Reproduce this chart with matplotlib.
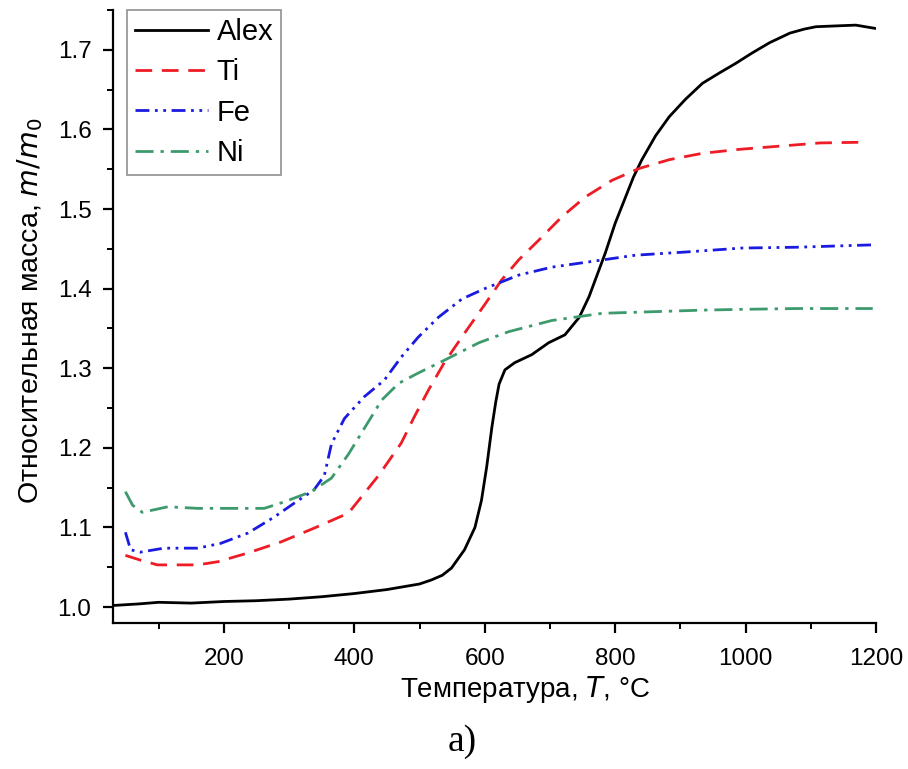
import matplotlib
matplotlib.use("Agg")
import matplotlib.pyplot as plt
from matplotlib.ticker import MultipleLocator, FormatStrFormatter

plt.rcParams['font.family'] = ['Liberation Sans', 'DejaVu Sans']

# Data
alex_T = [30, 70, 100, 150, 200, 250, 300, 350, 400, 450, 500, 518, 535, 549, 569, 585, 595, 603,
          611, 617, 622, 631, 646, 672, 698, 723, 745, 760, 775, 785, 800, 814, 828, 841, 862,
          883, 908, 934, 960, 985, 1010, 1037, 1068, 1090, 1108, 1138, 1169, 1198]
alex_m = [1.002, 1.004, 1.006, 1.005, 1.007, 1.008, 1.010, 1.013, 1.017, 1.022, 1.029, 1.034,
          1.040, 1.049, 1.072, 1.100, 1.134, 1.176, 1.226, 1.258, 1.280, 1.298, 1.307, 1.317,
          1.332, 1.342, 1.364, 1.390, 1.423, 1.445, 1.482, 1.511, 1.540, 1.562, 1.592, 1.616,
          1.638, 1.658, 1.671, 1.683, 1.696, 1.709, 1.721, 1.726, 1.729, 1.730, 1.731, 1.727]

ti_T = [49, 72, 98, 160, 191, 237, 288, 338, 391, 437, 472, 492, 514, 538, 569, 600, 626, 652,
        683, 718, 754, 795, 837, 883, 934, 991, 1037, 1114, 1185]
ti_m = [1.065, 1.059, 1.053, 1.053, 1.057, 1.068, 1.082, 1.099, 1.118, 1.165, 1.206, 1.239, 1.273,
        1.307, 1.344, 1.380, 1.411, 1.436, 1.461, 1.490, 1.515, 1.536, 1.551, 1.562, 1.570, 1.575,
        1.578, 1.583, 1.584]

fe_T = [49, 57, 72, 108, 160, 195, 237, 277, 314, 338, 354, 365, 385, 415, 446, 472, 498, 529,
        565, 600, 652, 703, 780, 831, 908, 995, 1078, 1195]
fe_m = [1.094, 1.072, 1.069, 1.074, 1.074, 1.080, 1.093, 1.113, 1.134, 1.147, 1.165, 1.205, 1.237,
        1.264, 1.285, 1.314, 1.339, 1.364, 1.387, 1.400, 1.417, 1.427, 1.436, 1.442, 1.446, 1.451,
        1.452, 1.455]

ni_T = [49, 60, 75, 114, 160, 262, 292, 334, 365, 391, 415, 442, 468, 498, 538, 591, 637, 703,
        780, 857, 934, 995, 1078, 1195]
ni_m = [1.145, 1.128, 1.119, 1.126, 1.124, 1.124, 1.132, 1.145, 1.162, 1.192, 1.224, 1.260, 1.281,
        1.294, 1.310, 1.332, 1.346, 1.360, 1.369, 1.371, 1.373, 1.374, 1.375, 1.375]

labels = ["Alex", "Ti", "Fe", "Ni"]
colors = ["#000000", "#ee1c25", "#1a1ae0", "#3d9a6c"]
styles = ["-", (0, (6, 3.5)), (0, (5, 2, 1, 2, 1, 2)), (0, (6.5, 2.5, 1.2, 2.5))]

fig = plt.figure(figsize=(9.08, 7.69), dpi=100)
ax = fig.add_axes([113 / 908, 1 - 623 / 769, (876 - 113) / 908, (623 - 10) / 769])

for T, m, lab, c, ls in zip([alex_T, ti_T, fe_T, ni_T], [alex_m, ti_m, fe_m, ni_m],
                            labels, colors, styles):
    ax.plot(T, m, color=c, linestyle=ls, linewidth=2.0, label=lab)

ax.set_xlim(30, 1200)
ax.set_ylim(0.98, 1.75)
ax.xaxis.set_major_locator(MultipleLocator(200))
ax.xaxis.set_minor_locator(MultipleLocator(100))
ax.yaxis.set_major_locator(MultipleLocator(0.1))
ax.yaxis.set_minor_locator(MultipleLocator(0.05))
ax.yaxis.set_major_formatter(FormatStrFormatter('%.1f'))

for s in ['top', 'right']:
    ax.spines[s].set_visible(False)
for s in ['left', 'bottom']:
    ax.spines[s].set_linewidth(1.6)

ax.tick_params(which='major', direction='out', length=7.5, width=1.6, labelsize=17.5)
ax.tick_params(axis='x', which='major', pad=10.5)
ax.tick_params(axis='y', which='major', pad=8)
ax.tick_params(which='minor', direction='out', length=4.5, width=1.4)

ax.set_xlabel("Температура, $\\it{T}$, °C", fontsize=20)
ax.xaxis.set_label_coords(0.54, -0.108)
ax.xaxis.label.set_va('center')
ax.set_ylabel("Относительная масса, $\\it{m/m}_0$", fontsize=20.5)
ax.yaxis.set_label_coords(-0.109, 0.51)
ax.yaxis.label.set_va('center')

leg = ax.legend(loc='upper left', bbox_to_anchor=(0.018, 1.0), borderaxespad=0,
                fontsize=21, handlelength=2.5, handletextpad=0.3, labelspacing=0.42,
                fancybox=False, edgecolor='#999999', framealpha=1, borderpad=0.28)
leg.get_frame().set_linewidth(1.3)

fig.text(462 / 908, 1 - 742 / 769, "a)", fontsize=27, family=['Liberation Serif', 'DejaVu Serif'],
         ha='center', va='center')

fig.savefig("out.png", dpi=100)
